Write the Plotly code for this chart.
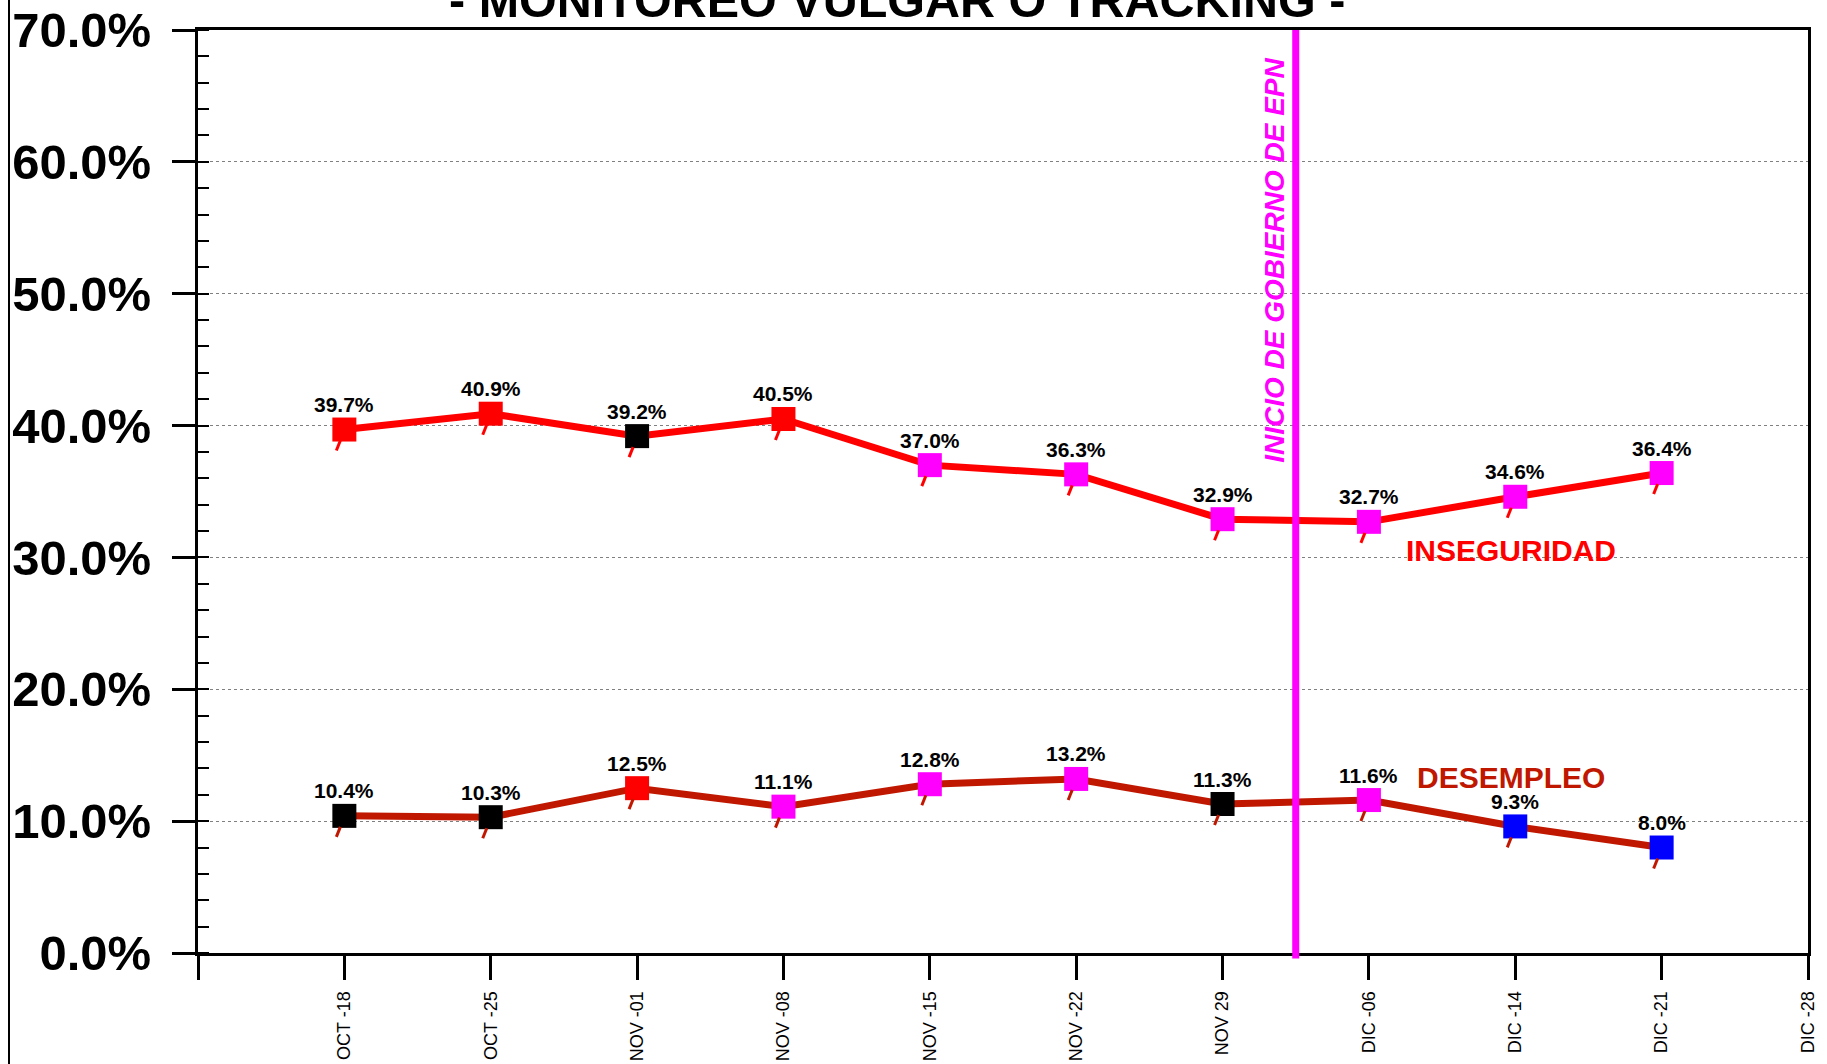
import plotly.graph_objects as go

# ---------------- data ----------------
weeks = ["OCT -18", "OCT -25", "NOV -01", "NOV -08", "NOV -15", "NOV -22",
         "NOV 29", "DIC -06", "DIC -14", "DIC -21", "DIC -28"]
week_pos = [1, 2, 3, 4, 5, 6, 7, 8, 9, 10]  # positions of the plotted weeks

inseguridad = [39.7, 40.9, 39.2, 40.5, 37.0, 36.3, 32.9, 32.7, 34.6, 36.4]
inseguridad_labels = ["39.7%", "40.9%", "39.2%", "40.5%", "37.0%", "36.3%",
                      "32.9%", "32.7%", "34.6%", "36.4%"]
inseguridad_marker_colors = ["#FF0000", "#FF0000", "#000000", "#FF0000", "#FF00FF",
                             "#FF00FF", "#FF00FF", "#FF00FF", "#FF00FF", "#FF00FF"]

desempleo = [10.4, 10.3, 12.5, 11.1, 12.8, 13.2, 11.3, 11.6, 9.6, 8.0]
desempleo_labels = ["10.4%", "10.3%", "12.5%", "11.1%", "12.8%", "13.2%",
                    "11.3%", "11.6%", "9.3%", "8.0%"]
desempleo_marker_colors = ["#000000", "#000000", "#FF0000", "#FF00FF", "#FF00FF",
                           "#FF00FF", "#000000", "#FF00FF", "#0000FF", "#0000FF"]

event_pos = 7.5
event_label = "INICIO DE GOBIERNO DE EPN"
title_text = "- MONITOREO VULGAR O TRACKING -"

# ---------------- styles ----------------
W, H = 1827, 1064
ML, MT = 198, 30
PR, PB = 1808, 953  # plot right / bottom in figure px
MR, MB = W - PR, H - PB
PW, PH = PR - ML, PB - MT
FONT = "Liberation Sans, Arial, sans-serif"
RED = "#FF0000"
DARKRED = "#C01800"
MAGENTA = "#FF00FF"


def px_x(p):  # screen px -> paper x
    return (p - ML) / PW


def px_y(p):  # screen px -> paper y
    return (PB - p) / PH


fig = go.Figure()


def add_series(vals, labels, mcolors, lcolor):
    fig.add_trace(go.Scatter(
        x=week_pos, y=vals, mode="lines+markers",
        line=dict(color=lcolor, width=7),
        marker=dict(symbol="square", size=24, color=mcolors, line=dict(width=0)),
        hoverinfo="skip", showlegend=False,
    ))
    for xv, yv, lab in zip(week_pos, vals, labels):
        fig.add_annotation(x=xv, y=yv, text="<b>" + lab + "</b>", showarrow=False,
                           xanchor="center", yanchor="middle", yshift=25,
                           font=dict(family=FONT, size=21, color="black"))
        # small slanted tick under each marker
        fig.add_shape(type="line", xref="x", yref="y",
                      xsizemode="pixel", ysizemode="pixel",
                      xanchor=xv, yanchor=yv, x0=-8, x1=-4, y0=-21, y1=-11,
                      line=dict(color=lcolor, width=3), layer="above")


add_series(inseguridad, inseguridad_labels, inseguridad_marker_colors, RED)
add_series(desempleo, desempleo_labels, desempleo_marker_colors, DARKRED)

# event line
fig.add_shape(type="line", xref="x", yref="paper", x0=event_pos, x1=event_pos,
              y0=-0.006, y1=1, line=dict(color=MAGENTA, width=7))
fig.add_annotation(x=event_pos, xref="x", y=px_y(260), yref="paper",
                   text="<b><i>" + event_label + "</i></b>", textangle=-90,
                   showarrow=False, xshift=-22, xanchor="center", yanchor="middle",
                   font=dict(family=FONT, size=28, color=MAGENTA))

# series names
fig.add_annotation(x=px_x(1511), xref="paper", y=px_y(550), yref="paper",
                   text="<b>INSEGURIDAD</b>", showarrow=False,
                   xanchor="center", yanchor="middle",
                   font=dict(family=FONT, size=30, color=RED))
fig.add_annotation(x=px_x(1511), xref="paper", y=px_y(777), yref="paper",
                   text="<b>DESEMPLEO</b>", showarrow=False,
                   xanchor="center", yanchor="middle",
                   font=dict(family=FONT, size=30, color=DARKRED))

# title (cut off at top)
fig.add_annotation(x=px_x(897), xref="paper", y=px_y(0), yref="paper",
                   text="<b>" + title_text + "</b>", showarrow=False,
                   xanchor="center", yanchor="middle",
                   font=dict(family=FONT, size=48.5, color="black"))

# left page border
fig.add_shape(type="line", xref="paper", yref="paper",
              x0=px_x(9), x1=px_x(9),
              y0=px_y(H + 10), y1=px_y(-10),
              line=dict(color="black", width=2))

fig.update_layout(
    width=W, height=H,
    margin=dict(l=ML, r=MR, t=MT, b=MB, pad=0, autoexpand=False),
    paper_bgcolor="white", plot_bgcolor="white",
    font=dict(family=FONT, color="black"),
    showlegend=False,
)

fig.update_xaxes(
    range=[0, 11], tickmode="array", tickvals=list(range(0, 12)),
    ticktext=[""] + weeks, tickangle=-90, automargin=False,
    tickfont=dict(family=FONT, size=18, color="black"),
    ticks="outside", ticklen=24, tickwidth=3, tickcolor="black",
    showline=True, linewidth=3, linecolor="black", mirror=True,
    showgrid=False, zeroline=False, ticklabelstandoff=4,
    ticklabeloverflow="allow",
)
fig.update_yaxes(
    range=[0, 70], tickmode="linear", tick0=0, dtick=10,
    tickformat=".1f", ticksuffix="%", automargin=False,
    tickfont=dict(family=FONT, size=49, color="black", weight="bold"),
    ticks="outside", ticklen=23, tickwidth=3, tickcolor="black",
    showline=True, linewidth=3, linecolor="black", mirror=True,
    showgrid=True, gridcolor="#808080", gridwidth=1, griddash="dot",
    zeroline=False, ticklabelstandoff=11, ticklabeloverflow="allow",
    minor=dict(ticks="inside", ticklen=11, tickwidth=2, tickcolor="black",
               dtick=2, showgrid=False),
)

fig.write_html("out.html", config={"displayModeBar": False},
               post_script="document.body.style.margin='0px';document.body.style.overflow='hidden';")
